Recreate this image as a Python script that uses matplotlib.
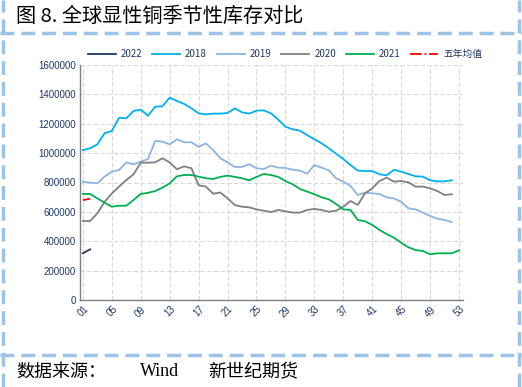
import matplotlib
matplotlib.use("Agg")
import matplotlib.pyplot as plt
from matplotlib.lines import Line2D

plt.rcParams['font.family'] = ['Liberation Sans Narrow', 'Liberation Sans', 'DejaVu Sans']

# -----------------------------
# 数据（周度库存，吨）
# -----------------------------
y2018 = [1021000, 1033000, 1060000, 1135000, 1151000, 1241000, 1237000, 1287000, 1296000, 1255000,
         1316000, 1319000, 1378000, 1355000, 1335000, 1305000, 1271000, 1264000, 1269000, 1269000,
         1273000, 1305000, 1278000, 1269000, 1289000, 1291000, 1271000, 1228000, 1180000, 1162000,
         1153000, 1123000, 1094000, 1067000, 1033000, 996000, 960000, 919000, 881000, 878000,
         878000, 856000, 849000, 887000, 874000, 858000, 842000, 840000, 815000, 808000,
         808000, 815000]
y2019 = [806000, 799000, 794000, 840000, 874000, 885000, 937000, 924000, 942000, 960000,
         1083000, 1078000, 1060000, 1094000, 1074000, 1074000, 1042000, 1067000, 1021000, 965000,
         937000, 906000, 906000, 924000, 897000, 892000, 915000, 901000, 899000, 887000,
         881000, 860000, 919000, 901000, 883000, 829000, 806000, 776000, 715000, 731000,
         726000, 722000, 699000, 692000, 669000, 624000, 617000, 595000, 572000, 554000,
         545000, 531000]
y2020 = [538000, 538000, 590000, 669000, 725000, 772000, 817000, 856000, 935000, 935000,
         937000, 965000, 937000, 890000, 910000, 897000, 781000, 772000, 724000, 732000,
         692000, 647000, 635000, 631000, 617000, 608000, 599000, 613000, 604000, 595000,
         595000, 613000, 620000, 613000, 601000, 608000, 635000, 674000, 647000, 726000,
         760000, 810000, 833000, 806000, 810000, 801000, 772000, 772000, 760000, 742000,
         715000, 720000]
y2021 = [722000, 722000, 692000, 663000, 635000, 642000, 642000, 681000, 722000, 730000,
         742000, 765000, 794000, 842000, 851000, 851000, 840000, 829000, 824000, 838000,
         847000, 838000, 829000, 815000, 838000, 858000, 851000, 838000, 810000, 788000,
         756000, 738000, 720000, 699000, 685000, 654000, 617000, 613000, 545000, 536000,
         511000, 477000, 449000, 424000, 390000, 359000, 340000, 334000, 311000, 318000,
         318000, 318000, 338000]
y2022 = [318000, 345000]
avg5 = [680000, 690000]

tick_weeks = [1, 5, 9, 13, 17, 21, 25, 29, 33, 37, 41, 45, 49, 53]
tick_labels = ["%02d" % w for w in tick_weeks]

navy = "#1F3864"

fig = plt.figure(figsize=(5.22, 3.87), dpi=100)
ax = fig.add_axes([80 / 522, 1 - 300 / 387, 383 / 522, 235 / 387])

series = [
    ("2022", y2022, navy, "-"),
    ("2018", y2018, "#00B0F0", "-"),
    ("2019", y2019, "#8DB4E2", "-"),
    ("2020", y2020, "#808080", "-"),
    ("2021", y2021, "#00B050", "-"),
    ("五年均值", avg5, "#FF0000", "-."),
]
handles = []
for name, vals, color, ls in series:
    weeks = list(range(1, len(vals) + 1))
    ln, = ax.plot(weeks, vals, color=color, lw=1.3, ls=ls, label=name)
    handles.append(ln)

ax.set_xlim(0.6, 53.55)
ax.set_ylim(0, 1600000)
ax.set_xticks(tick_weeks)
ax.set_xticklabels(tick_labels, rotation=45, fontsize=7, color=navy)
ax.set_yticks(range(0, 1600001, 200000))
ax.set_yticklabels([str(v) for v in range(0, 1600001, 200000)], fontsize=7, color=navy)
ax.tick_params(length=0, pad=3)
ax.grid(True, color="#D9D9D9", ls=(0, (4, 2)), lw=0.8)
ax.set_axisbelow(True)
for s in ["top", "right"]:
    ax.spines[s].set_visible(False)
for s in ["left", "bottom"]:
    ax.spines[s].set_color("#808080")
    ax.spines[s].set_linewidth(1.0)

leg = fig.legend(handles=handles, loc="center", bbox_to_anchor=(285 / 522, 1 - 54 / 387),
                 ncol=6, frameon=False, handlelength=2.9, columnspacing=1.0,
                 handletextpad=0.5,
                 prop={"family": ["Liberation Sans Narrow", "Noto Sans CJK SC"], "size": 7})
for t in leg.get_texts():
    t.set_color(navy)

# 标题与来源
cjk = ["Noto Sans CJK SC", "DejaVu Sans"]
fig.text(16 / 522, 1 - 16 / 387, "图 8. 全球显性铜季节性库存对比", fontsize=14.5,
         family=cjk, va="center", ha="left")
fig.text(16 / 522, 1 - 372 / 387, "数据来源：", fontsize=13, family=cjk, va="center")
fig.text(140 / 522, 1 - 372 / 387, "Wind", fontsize=13, family=["Liberation Serif"], va="center")
fig.text(208 / 522, 1 - 372 / 387, "新世纪期货", fontsize=13, family=cjk, va="center")

# 虚线边框
bcol = "#9DC3E6"
dash = dict(color=bcol, lw=2.5, ls=(0, (4, 2)), transform=fig.transFigure)
fig.add_artist(Line2D([3 / 522, 3 / 522], [0, 1], **dash))
fig.add_artist(Line2D([519 / 522, 519 / 522], [0, 1], **dash))
fig.add_artist(Line2D([0, 1], [1 - 33 / 387, 1 - 33 / 387], **dash))
fig.add_artist(Line2D([0, 1], [1 - 355 / 387, 1 - 355 / 387], **dash))

fig.savefig("out.png", dpi=100)
